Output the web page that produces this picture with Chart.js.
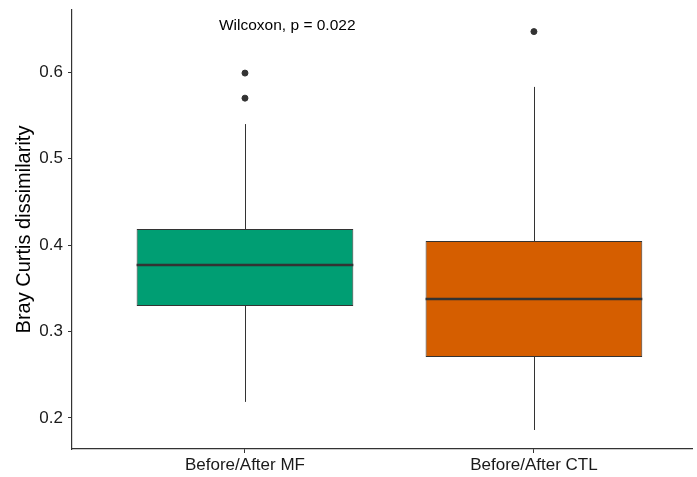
<!DOCTYPE html>
<html lang="en">
<head>
    <meta charset="UTF-8">
    <title>Bray Curtis dissimilarity</title>
    <style>
        body { margin: 0; background: #ffffff; overflow: hidden; }
        canvas { display: block; }
    </style>
    <script src="https://cdn.jsdelivr.net/npm/chart.js"></script>
</head>
<body>
    <canvas id="boxChart" width="697" height="477"></canvas>
    <script>
        // values
        const categories = ['Before/After MF', 'Before/After CTL'];
        const whiskerLow = [0.2185, 0.186];
        const q1 = [0.3295, 0.2705];
        const median = [0.377, 0.3376];
        const q3 = [0.4185, 0.4046];
        const whiskerHigh = [0.540, 0.583];
        const outliers = [[0.599, 0.570], [0.647]];
        const yTicks = [0.2, 0.3, 0.4, 0.5, 0.6];
        const fills = ['#009E73', '#D55E00'];
        const testLabel = 'Wilcoxon, p = 0.022';

        const ink = '#333333';
        const fontFamily = '"Liberation Sans", Arial, sans-serif';

        const outlierPoints = [];
        outliers.forEach((list, i) => list.forEach(v => outlierPoints.push({ x: i + 1, y: v })));

        // whiskers and median lines drawn through the chart scales
        const boxExtras = {
            id: 'boxExtras',
            beforeDatasetsDraw(chart) {
                const { ctx, scales: { x, y } } = chart;
                ctx.save();
                ctx.strokeStyle = ink;
                ctx.lineWidth = 1;
                categories.forEach((c, i) => {
                    const px = Math.round(x.getPixelForValue(i + 1)) + 0.5;
                    ctx.beginPath();
                    ctx.moveTo(px, y.getPixelForValue(whiskerHigh[i]));
                    ctx.lineTo(px, y.getPixelForValue(q3[i]));
                    ctx.moveTo(px, y.getPixelForValue(q1[i]));
                    ctx.lineTo(px, y.getPixelForValue(whiskerLow[i]));
                    ctx.stroke();
                });
                ctx.restore();
            },
            afterDatasetsDraw(chart) {
                const { ctx, scales: { x, y } } = chart;
                const bars = chart.getDatasetMeta(0).data;
                ctx.save();
                ctx.strokeStyle = ink;
                ctx.lineWidth = 2.5;
                categories.forEach((c, i) => {
                    const half = bars[i].width / 2;
                    const px = x.getPixelForValue(i + 1);
                    const py = y.getPixelForValue(median[i]);
                    ctx.beginPath();
                    ctx.moveTo(px - half, py);
                    ctx.lineTo(px + half, py);
                    ctx.stroke();
                });
                ctx.fillStyle = '#000000';
                ctx.font = '15.5px ' + fontFamily;
                ctx.textAlign = 'left';
                ctx.textBaseline = 'middle';
                ctx.fillText(testLabel, x.getPixelForValue(0.91), y.getPixelForValue(0.654));
                ctx.restore();
            }
        };

        new Chart(document.getElementById('boxChart'), {
            type: 'bar',
            data: {
                datasets: [{
                    label: 'box',
                    data: categories.map((c, i) => ({ x: i + 1, y: [q1[i], q3[i]] })),
                    backgroundColor: fills,
                    borderColor: ink,
                    borderWidth: 1,
                    borderSkipped: false,
                    barPercentage: 0.75,
                    categoryPercentage: 1,
                    order: 2
                }, {
                    type: 'scatter',
                    label: 'outliers',
                    data: outlierPoints,
                    backgroundColor: ink,
                    borderColor: ink,
                    pointRadius: 3,
                    order: 1
                }]
            },
            options: {
                responsive: false,
                animation: false,
                layout: { padding: { top: 10, right: 0, left: 0, bottom: 0 } },
                plugins: {
                    legend: { display: false },
                    tooltip: { enabled: false }
                },
                scales: {
                    x: {
                        type: 'linear',
                        offset: false,
                        min: 0.4014,
                        max: 2.547,
                        afterBuildTicks: s => { s.ticks = categories.map((c, i) => ({ value: i + 1 })); },
                        afterFit: s => {
                            s.height = 28;
                            s.paddingLeft = 0;
                            s.paddingRight = 0;
                        },
                        ticks: {
                            callback: v => categories[v - 1],
                            color: '#1a1a1a',
                            font: { family: fontFamily, size: 17 },
                            padding: 2,
                            maxRotation: 0
                        },
                        grid: { display: true, offset: false, drawOnChartArea: false, tickLength: 4, color: ink },
                        border: { color: ink, width: 1.2 }
                    },
                    y: {
                        min: 0.164,
                        max: 0.672,
                        afterBuildTicks: s => { s.ticks = yTicks.map(v => ({ value: v })); },
                        afterFit: s => {
                            s.width = 72;
                            s.paddingTop = 0;
                            s.paddingBottom = 0;
                        },
                        ticks: {
                            callback: v => v.toFixed(1),
                            color: '#1a1a1a',
                            font: { family: fontFamily, size: 17 },
                            padding: 5
                        },
                        grid: { display: true, drawOnChartArea: false, tickLength: 4, color: ink },
                        border: { color: ink, width: 1.2 },
                        title: {
                            display: true,
                            text: 'Bray Curtis dissimilarity',
                            color: '#000000',
                            font: { family: fontFamily, size: 20 },
                            padding: { top: 12, bottom: 0 }
                        }
                    }
                }
            },
            plugins: [boxExtras]
        });
    </script>
</body>
</html>
